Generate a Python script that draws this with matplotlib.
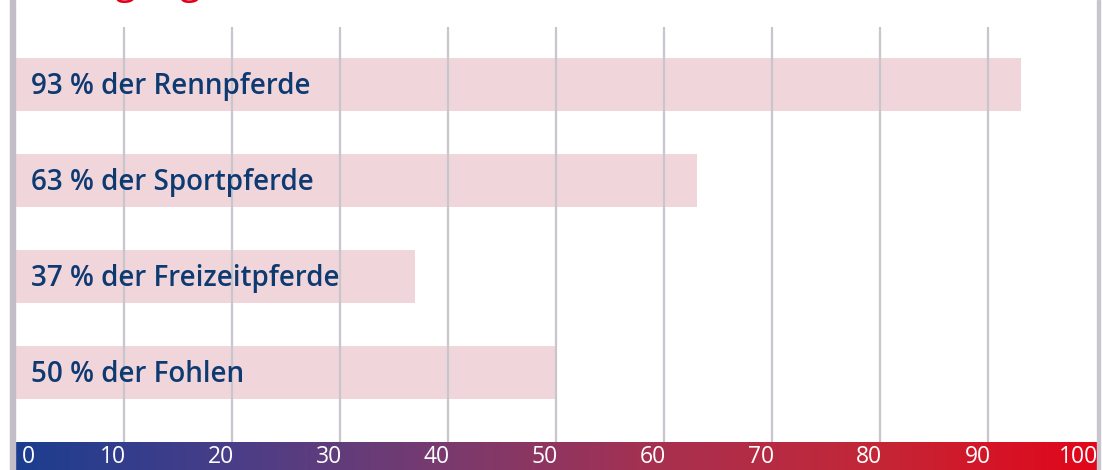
import numpy as np
import matplotlib.pyplot as plt
from matplotlib.colors import LinearSegmentedColormap
from matplotlib.patches import Rectangle

plt.rcParams['font.family'] = ['Open Sans', 'DejaVu Sans']

# Anteil der Pferde mit Magengeschwüren (%)
groups = ['Rennpferde', 'Sportpferde', 'Freizeitpferde', 'Fohlen']
shares = [93, 63, 37, 50]
ticks = [0, 10, 20, 30, 40, 50, 60, 70, 80, 90, 100]
title = 'Magengeschwüre'

W, H = 1102, 470
fig = plt.figure(figsize=(W / 100, H / 100), dpi=100)

x0, x1 = 15.5, 1096.5
top, bot = 27, 442

ax = fig.add_axes([x0 / W, 1 - bot / H, (x1 - x0) / W, (bot - top) / H])
ax.set_xlim(0, 100)
step = 96.0
ax.set_ylim((bot - 373) / step + 3, -(84.5 - top) / step)
ax.axis('off')

for t in ticks[1:-1]:
    ax.axvline(t, color='#c9c5cc', lw=1.6, zorder=2)

ypos = np.arange(len(groups))
ax.barh(ypos, shares, height=53 / step, left=0, color='#f0d6da', zorder=1)
for y, g, v in zip(ypos, groups, shares):
    ax.text(1.45, y + 0.02, f'{v} % der {g}', ha='left', va='center',
            fontsize=20, fontweight='semibold', color='#0e3a72', zorder=3)

# Farbverlauf-Skala unten
cax = fig.add_axes([x0 / W, 0, (x1 - x0) / W, (H - bot) / H])
cmap = LinearSegmentedColormap.from_list(
    'scale', ['#1c3d8f', '#4a3e88', '#7a3a6e', '#a8304f', '#c42636', '#e2061a'])
cax.imshow(np.linspace(0, 1, 512)[None, :], aspect='auto', cmap=cmap,
           extent=(0, 100, 0, 1))
cax.set_xlim(0, 100)
cax.set_ylim(0, 1)
cax.axis('off')
for t in ticks:
    if t == 0:
        cax.text(0.6, 0.02, str(t), ha='left', va='bottom', color='white', fontsize=16.5)
    else:
        cax.text(t + 0.2, 0.02, str(t), ha='right', va='bottom', color='white', fontsize=16.5)

# Rahmenlinien links und rechts
fig.patches.append(Rectangle((10 / W, 0), 5 / W, 1, transform=fig.transFigure,
                             color='#c2bec6', zorder=5))
fig.patches.append(Rectangle((1097 / W, 0), 3 / W, 1, transform=fig.transFigure,
                             color='#c9c5cc', zorder=5))

# Titel (oben abgeschnitten)
fig.text(61 / W, 1 + 6.5 / H, title, ha='left', va='baseline', color='#e2001a',
         fontsize=27)

fig.savefig('out.png', dpi=100)
